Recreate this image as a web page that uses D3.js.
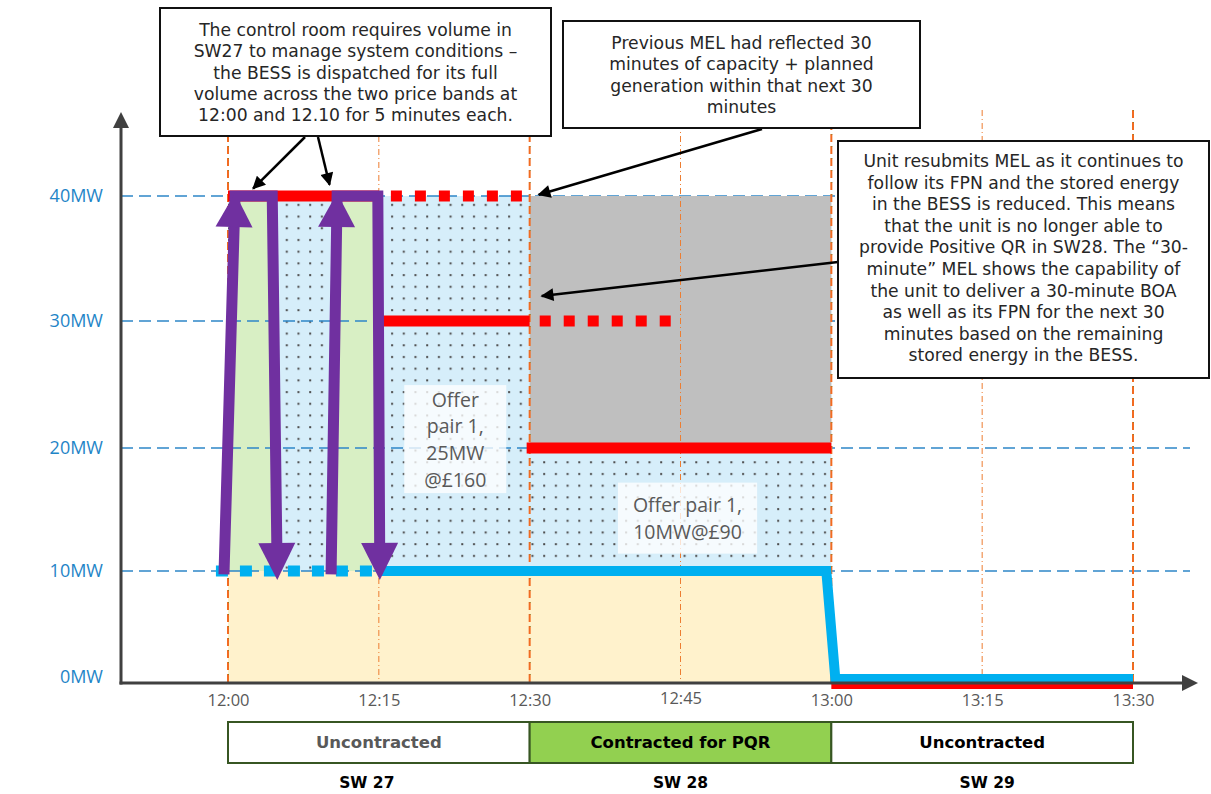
<!DOCTYPE html>
<html><head><meta charset="utf-8">
<script src="https://cdn.jsdelivr.net/npm/d3@7"></script>
<style>body{margin:0;background:#fff;} svg{display:block;font-family:"Open Sans",sans-serif;}</style>
</head><body><svg id="c" width="1211" height="794"></svg>
<script>
// ---------------- DATA ----------------
const timeMinutes = [0, 15, 30, 45, 60, 75, 90];
const timeLabels = ["12:00", "12:15", "12:30", "12:45", "13:00", "13:15", "13:30"];
const majorTimes = [0, 30, 60, 90];
const minorTimes = [15, 45, 75];
const yTickValues = [0, 10, 20, 30, 40];
const yTickLabels = ["0MW", "10MW", "20MW", "30MW", "40MW"];
const gridValues = [10, 20, 30, 40];

// FPN (blue) – minutes after 12:00, MW
const fpnDotted = [[-1.2, 10], [15, 10]];
const fpnSolid = [[15, 10], [59.5, 10], [60.4, 0], [90, 0]];
const fpnBaseArea = [[0, 10], [59.5, 10], [60.4, 0]];

// MEL (red)
const melSolid = [
  [[0, 40], [15, 40]],
  [[15.3, 30], [30, 30]],
  [[29.7, 20], [60, 20]],
  [[60, 0], [90, 0]]
];
const melDotted = [
  [[16.2, 40], [30, 40]],
  [[31.0, 30], [44.2, 30]]
];

// Offer bands
const availableBand = [0, 60, 10, 40];   // t0, t1, lo, hi
const reducedBand = [30, 60, 20, 40];    // grey area

// BOA dispatch arrows (purple): up from, up to, down from, down to
const boaUpFrom = [[-0.4, 9.7], [10.25, 9.7]];
const boaUpTo = [[0.7, 40], [10.85, 40]];
const boaDownFrom = [[4.4, 40], [14.9, 40]];
const boaDownTo = [[4.9, 9.2], [15.1, 9.2]];

// Offer labels
const offerLabels = [
  {t: 22.6, v: 20.7, lines: ["Offer", "pair 1,", "25MW", "@£160"]},
  {t: 45.7, v: 14.3, lines: ["Offer pair 1,", "10MW@£90"]}
];

// Settlement periods
const periodBounds = [0, 30, 60, 90];
const periodNames = ["SW 27", "SW 28", "SW 29"];
const periodStatus = ["Uncontracted", "Contracted for PQR", "Uncontracted"];

// Callouts
const callout1 = ["The control room requires volume in", "SW27 to manage system conditions –",
  "the BESS is dispatched for its full", "volume across the two price bands at",
  "12:00 and 12.10 for 5 minutes each."];
const callout2 = ["Previous MEL had reflected 30", "minutes of capacity + planned",
  "generation within that next 30", "minutes"];
const callout3 = ["Unit resubmits MEL as it continues to", "follow its FPN and the stored energy",
  "in the BESS is reduced. This means", "that the unit is no longer able to",
  "provide Positive QR in SW28. The “30-", "minute” MEL shows the capability of",
  "the unit to deliver a 30-minute BOA", "as well as its FPN for the next 30",
  "minutes based on the remaining", "stored energy in the BESS."];
const calloutTargets = [[2.5, 40.6], [10.1, 40.9], [30.9, 40.1], [31.2, 32.0]];

// ---------------- CHART ----------------
const svg = d3.select("#c");
const x = d3.scaleLinear().domain([0, 90]).range([228, 1133]);
const y = d3.scaleLinear().domain([0, 10, 20, 30, 40]).range([683, 571, 448, 321, 196]);
const axisX0 = 121;

const defs = svg.append("defs");
const pat = defs.append("pattern").attr("id", "dots").attr("width", 11.7).attr("height", 11.7)
  .attr("patternUnits", "userSpaceOnUse");
pat.append("rect").attr("width", 11.7).attr("height", 11.7).attr("fill", "#D6EEFA");
pat.append("rect").attr("x", 5).attr("y", 5).attr("width", 2).attr("height", 2).attr("fill", "#4a4a4a");
defs.append("marker").attr("id", "ah").attr("viewBox", "0 0 10 10").attr("refX", 9).attr("refY", 5)
  .attr("markerWidth", 16).attr("markerHeight", 13).attr("markerUnits", "userSpaceOnUse")
  .attr("orient", "auto").append("path").attr("d", "M0,0L10,5L0,10z").attr("fill", "#000");

// beige area under FPN
svg.append("path").datum(fpnBaseArea)
  .attr("d", d3.area().x(d => x(d[0])).y0(y(0)).y1(d => y(d[1])))
  .attr("fill", "#FFF2CC");

// dotted blue available band
svg.append("rect").attr("x", x(availableBand[0])).attr("y", y(availableBand[3]))
  .attr("width", x(availableBand[1]) - x(availableBand[0]))
  .attr("height", y(availableBand[2]) - y(availableBand[3]))
  .attr("fill", "url(#dots)");

// green dispatched areas
boaUpFrom.forEach((u, i) => {
  const pts = [[u[0], 10], boaUpTo[i], boaDownFrom[i], [boaDownTo[i][0], 10]];
  svg.append("path").attr("d", d3.line().x(d => x(d[0])).y(d => y(d[1]))(pts) + "Z")
    .attr("fill", "#D8EFC4");
});

// grid lines
svg.append("g").selectAll("line").data(gridValues).join("line")
  .attr("x1", axisX0).attr("x2", 1190).attr("y1", d => y(d)).attr("y2", d => y(d))
  .attr("stroke", "#2E86C8").attr("stroke-width", 1.3).attr("stroke-dasharray", "12,6");

// grey reduced band
svg.append("rect").attr("x", x(reducedBand[0])).attr("y", y(reducedBand[3]))
  .attr("width", x(reducedBand[1]) - x(reducedBand[0]))
  .attr("height", y(reducedBand[2]) - y(reducedBand[3]))
  .attr("fill", "#BFBFBF");

// vertical time lines
svg.append("g").selectAll("line").data(minorTimes).join("line")
  .attr("x1", d => x(d)).attr("x2", d => x(d)).attr("y1", 110).attr("y2", y(0))
  .attr("stroke", "#ED7D31").attr("stroke-width", 1).attr("stroke-dasharray", "6,3,1,3");
svg.append("g").selectAll("line").data(majorTimes).join("line")
  .attr("x1", d => x(d)).attr("x2", d => x(d)).attr("y1", 110).attr("y2", y(0))
  .attr("stroke", "#F26B21").attr("stroke-width", 2).attr("stroke-dasharray", "8,4");
svg.append("g").selectAll("line").data(majorTimes).join("line")
  .attr("x1", d => x(d) + 0.5).attr("x2", d => x(d) + 0.5).attr("y1", 110).attr("y2", y(0))
  .attr("stroke", "#5B8C3A").attr("stroke-width", 0.7).attr("stroke-dasharray", "1,11");

// offer labels
const lbl = svg.append("g");
offerLabels.forEach((o, i) => {
  const fs = 19.5, lh = 26.6;
  const g = lbl.append("g");
  const cx = x(o.t), cy = y(o.v);
  const texts = g.selectAll("text").data(o.lines).join("text")
    .attr("x", cx).attr("y", (d, k) => cy + (k - (o.lines.length - 1) / 2) * lh)
    .attr("text-anchor", "middle").attr("dominant-baseline", "central")
    .attr("font-size", fs).attr("fill", "#595959").text(d => d);
  const w = d3.max(texts.nodes(), n => n.getComputedTextLength());
  const bw = i === 0 ? 102 : w + 30, bh = i === 0 ? 108 : 71;
  g.insert("rect", "text").attr("x", cx - bw / 2).attr("y", cy - bh / 2)
    .attr("width", bw).attr("height", bh).attr("fill", "#FFFFFF").attr("opacity", 0.78);
});

// MEL red lines
const ln = d3.line().x(d => x(d[0])).y(d => d[1] === 0 ? y(0) + 3 : y(d[1]));
svg.append("g").selectAll("path").data(melSolid).join("path")
  .attr("d", ln).attr("fill", "none").attr("stroke", "#FF0000")
  .attr("stroke-width", d => d[0][1] === 0 ? 6 : 11);
svg.append("g").selectAll("path").data(melDotted).join("path")
  .attr("d", ln).attr("fill", "none").attr("stroke", "#FF0000")
  .attr("stroke-width", 11).attr("stroke-dasharray", "11,13");

// FPN blue line
const lnB = d3.line().x(d => x(d[0])).y(d => Math.min(y(d[1]), y(0) - 4));
svg.append("path").datum(fpnSolid).attr("d", lnB).attr("fill", "none")
  .attr("stroke", "#00B0F0").attr("stroke-width", 10).attr("stroke-linejoin", "miter");
svg.append("path").datum(fpnDotted).attr("d", lnB).attr("fill", "none")
  .attr("stroke", "#00B0F0").attr("stroke-width", 11).attr("stroke-dasharray", "12,12");

// purple BOA arrows
const purple = "#7030A0";
function head(tip, from, len, wid) {
  const dx = tip[0] - from[0], dy = tip[1] - from[1], L = Math.hypot(dx, dy);
  const ux = dx / L, uy = dy / L, px = -uy, py = ux;
  const bx = tip[0] - ux * len, by = tip[1] - uy * len;
  return `M${tip[0]},${tip[1]}L${bx + px * wid / 2},${by + py * wid / 2}L${bx - px * wid / 2},${by - py * wid / 2}Z`;
}
boaUpFrom.forEach((u, i) => {
  const p0 = [x(u[0]), y(u[1])], p1 = [x(boaUpTo[i][0]), y(boaUpTo[i][1])];
  const p2 = [x(boaDownFrom[i][0]), y(boaDownFrom[i][1])], p3 = [x(boaDownTo[i][0]), y(boaDownTo[i][1])];
  const L = Math.hypot(p3[0] - p2[0], p3[1] - p2[1]);
  const p3s = [p3[0] - (p3[0] - p2[0]) / L * 30, p3[1] - (p3[1] - p2[1]) / L * 30];
  svg.append("path").attr("d", `M${p0}L${p1}L${p2}L${p3s}`).attr("fill", "none")
    .attr("stroke", purple).attr("stroke-width", 11).attr("stroke-linejoin", "miter");
  svg.append("path").attr("d", head([p1[0], p1[1] - 3], p0, 34, 37)).attr("fill", purple);
  svg.append("path").attr("d", head(p3, p2, 37, 37)).attr("fill", purple);
});

// axes
const axCol = "#404040";
svg.append("line").attr("x1", axisX0).attr("x2", axisX0).attr("y1", y(0) + 1.5).attr("y2", 124)
  .attr("stroke", axCol).attr("stroke-width", 3);
svg.append("path").attr("d", `M${axisX0},112L${axisX0 - 8},128L${axisX0 + 8},128Z`).attr("fill", axCol);
svg.append("line").attr("x1", axisX0 - 1.5).attr("x2", 1184).attr("y1", y(0)).attr("y2", y(0))
  .attr("stroke", axCol).attr("stroke-width", 3);
svg.append("path").attr("d", `M1198,${y(0)}L1182,${y(0) - 8}L1182,${y(0) + 8}Z`).attr("fill", axCol);

const yAx = svg.append("g").attr("transform", `translate(${axisX0},0)`)
  .call(d3.axisLeft(y).tickValues(yTickValues).tickFormat((d, i) => yTickLabels[i]).tickSize(0).tickPadding(18));
yAx.select(".domain").remove();
yAx.selectAll("text").attr("font-size", 18).attr("fill", "#1F85C7").attr("font-family", "Open Sans")
  .attr("dy", (d) => d === 0 ? "-0.05em" : "0.32em");

const xAx = svg.append("g").attr("transform", `translate(0,${y(0)})`)
  .call(d3.axisBottom(x).tickValues(timeMinutes).tickFormat((d, i) => timeLabels[i]).tickSize(0).tickPadding(11));
xAx.select(".domain").remove();
xAx.selectAll("text").attr("font-size", 16.5).attr("fill", "#595959").attr("font-family", "Open Sans")
  .attr("dy", d => d === 45 ? "0.6em" : "0.71em");

// callouts
function callout(bx, by, bw, bh, lines, firstY, lh) {
  const g = svg.append("g");
  g.append("rect").attr("x", bx).attr("y", by).attr("width", bw).attr("height", bh)
    .attr("fill", "#fff").attr("stroke", "#111").attr("stroke-width", 2);
  g.selectAll("text").data(lines).join("text")
    .attr("x", bx + bw / 2).attr("y", (d, k) => firstY + k * lh)
    .attr("text-anchor", "middle").attr("dominant-baseline", "central")
    .attr("font-family", "DejaVu Sans").attr("font-size", 17.2).attr("fill", "#262626").text(d => d);
}
const arrowStarts = [[305, 137], [318, 137], [762, 129], [838, 262]];
svg.append("g").selectAll("line").data(calloutTargets).join("line")
  .attr("x1", (d, i) => arrowStarts[i][0]).attr("y1", (d, i) => arrowStarts[i][1])
  .attr("x2", d => x(d[0])).attr("y2", d => y(d[1]))
  .attr("stroke", "#000").attr("stroke-width", 2.5).attr("marker-end", "url(#ah)");
callout(160, 8, 391, 128, callout1, 30, 21.3);
callout(563, 21, 357, 107, callout2, 43, 21.3);
callout(838, 141, 371, 237, callout3, 161, 21.6);

// settlement period bar
const pb = svg.append("g");
periodNames.forEach((nm, i) => {
  const x0 = x(periodBounds[i]), x1 = x(periodBounds[i + 1]);
  pb.append("rect").attr("x", x0).attr("y", 722).attr("width", x1 - x0).attr("height", 41)
    .attr("fill", i === 1 ? "#92D050" : "#fff").attr("stroke", "#375623").attr("stroke-width", 2);
  pb.append("text").attr("x", (x0 + x1) / 2).attr("y", 742.5).attr("text-anchor", "middle")
    .attr("dominant-baseline", "central").attr("font-weight", "bold").attr("font-size", 16.5)
    .attr("font-family", "DejaVu Sans")
    .attr("fill", i === 0 ? "#595959" : "#000").text(periodStatus[i]);
  pb.append("text").attr("x", (x0 + x1) / 2 - (i === 0 ? 12 : i === 2 ? -5 : 0)).attr("y", 783).attr("text-anchor", "middle")
    .attr("dominant-baseline", "central").attr("font-weight", "bold").attr("font-size", 15.5)
    .attr("font-family", "DejaVu Sans")
    .attr("fill", "#000").text(nm);
});
</script></body></html>
